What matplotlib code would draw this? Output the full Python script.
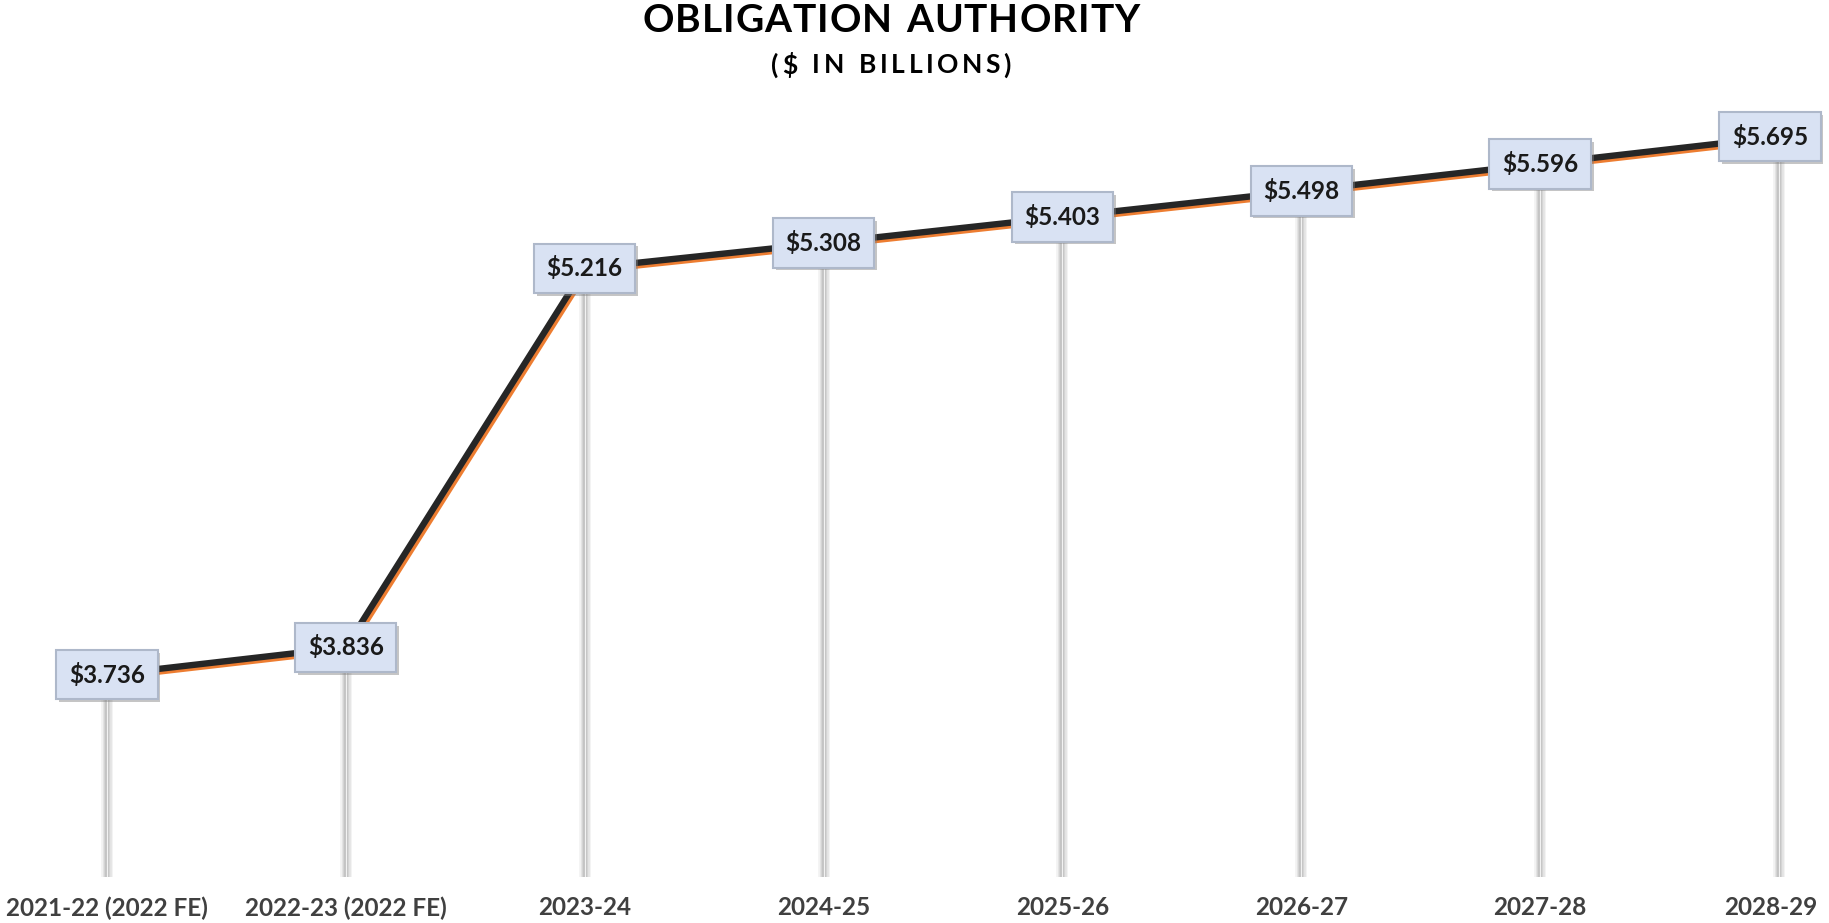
import matplotlib
matplotlib.use("Agg")
import matplotlib.pyplot as plt
import matplotlib.transforms as mtransforms
import matplotlib.patheffects as pe

categories = ["2021-22 (2022 FE)", "2022-23 (2022 FE)", "2023-24", "2024-25",
              "2025-26", "2026-27", "2027-28", "2028-29"]
values = [3.736, 3.836, 5.216, 5.308, 5.403, 5.498, 5.596, 5.695]
labels = ["$3.736", "$3.836", "$5.216", "$5.308", "$5.403", "$5.498", "$5.596", "$5.695"]

plt.rcParams['font.family'] = ['Lato', 'DejaVu Sans']

W, H, DPI = 1829, 923, 100
fig = plt.figure(figsize=(W / DPI, H / DPI), dpi=DPI)
ax = fig.add_axes([0, 1 - 877 / H, 1, (877 - 53) / H])
x = list(range(len(categories)))
unit = (1779 - 107) / 7
ax.set_xlim(-107 / unit, 7 + (W - 1779) / unit)
ax.set_ylim(3.0, 6.0)
for s in ax.spines.values():
    s.set_visible(False)
ax.set_yticks([])
ax.set_xticks(x)
ax.set_xticklabels(categories, fontsize=17.5, fontweight='bold', color='#404040')
ax.tick_params(axis='x', length=0, pad=14)
# keep the last tick label inside the figure, as in the reference
last = ax.get_xticklabels()[-1]
last.set_transform(last.get_transform() +
                   mtransforms.ScaledTranslation(-8 / DPI, 0, fig.dpi_scale_trans))

# drop lines (soft gray gradient)
for lw, col in [(8.5, '#f3f3f3'), (6.5, '#e6e6e6'), (4.5, '#d4d4d4'), (2.8, '#c4c4c4')]:
    ax.vlines(x, 3.0, values, colors=col, linewidth=lw, zorder=1)
ax.vlines(x, 3.0, values, colors='#f2f2f2', linewidth=0.8, zorder=1)

# line with orange offset
off = mtransforms.ScaledTranslation(1.6 / 72, -1.8 / 72, fig.dpi_scale_trans)
ax.plot(x, values, color='#ED7D31', linewidth=4.5, transform=ax.transData + off,
        solid_capstyle='butt', zorder=2)
ax.plot(x, values, color='#262626', linewidth=4.6, solid_capstyle='butt', zorder=3)

for i, (xi, v, lab) in enumerate(zip(x, values, labels)):
    tr = ax.transData
    if i == len(x) - 1:
        tr = tr + mtransforms.ScaledTranslation(-9 / DPI, 0, fig.dpi_scale_trans)
    t = ax.text(xi, v, lab, ha='center', va='center', fontsize=17.5, fontweight='bold',
                color='#1a1a1a', zorder=5, transform=tr,
                bbox=dict(boxstyle='square,pad=0.52', facecolor='#D9E2F3',
                          edgecolor='#AEB8CA', linewidth=1.5))
    t.get_bbox_patch().set_path_effects([
        pe.SimplePatchShadow(offset=(2, -2), shadow_rgbFace='#7f7f7f', alpha=0.45),
        pe.Normal()])


def tracked_text(fig, xc, yc, s, size, tracking_px):
    """Draw text centred at figure-pixel (xc, yc) with extra letter spacing."""
    renderer = fig.canvas.get_renderer()
    widths = []
    for ch in s:
        probe = fig.text(0, 0, ch if ch != ' ' else 'n', fontsize=size, fontweight='bold')
        w = probe.get_window_extent(renderer).width
        if ch == ' ':
            w *= 0.55
        widths.append(w)
        probe.remove()
    total = sum(widths) + tracking_px * (len(s) - 1)
    cur = xc - total / 2
    for ch, w in zip(s, widths):
        if ch != ' ':
            fig.text(cur / W, 1 - yc / H, ch, ha='left', va='center', fontsize=size,
                     fontweight='bold', color='#000000')
        cur += w + tracking_px


tracked_text(fig, 891, 21, "OBLIGATION AUTHORITY", 28, 1.0)
tracked_text(fig, 891, 65, "($ IN BILLIONS)", 19, 3.5)

fig.savefig("out.png", dpi=DPI, facecolor='white')
